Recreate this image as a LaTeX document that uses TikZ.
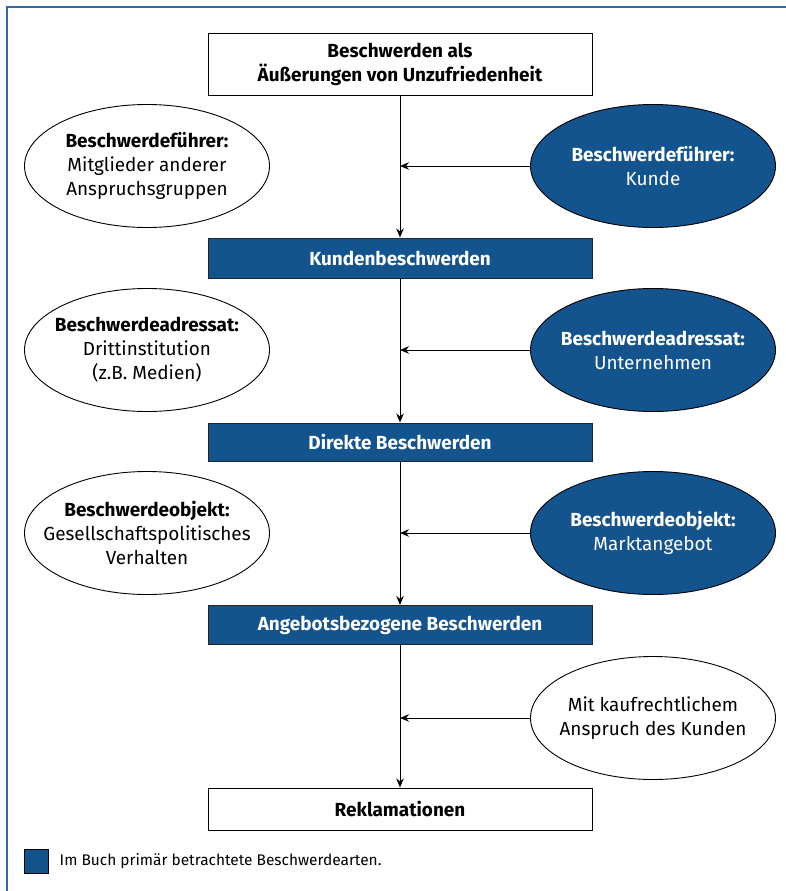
\documentclass[tikz,border=0pt]{standalone}
\usepackage{fontspec}
\setmainfont{Fira Sans}
\usetikzlibrary{arrows.meta}
\usetikzlibrary{positioning}
\usetikzlibrary{shapes.geometric}
\newcommand{\labelsize}{\fontsize{19}{24}\selectfont}
\definecolor{kblue}{RGB}{19,84,142}
\definecolor{fblue}{RGB}{45,105,165}
\tikzset{
  box/.style = {draw, line width=1pt, minimum width=384bp, inner sep=0, align=center, font=\labelsize\bfseries},
  wbox/.style = {box, fill=white},
  bbox/.style = {box, fill=kblue, text=white, draw=black!85},
  oval/.style = {ellipse, draw, line width=0.9pt, minimum width=245bp, minimum height=123bp, inner xsep=-45bp, inner ysep=0, align=center, font=\labelsize},
  woval/.style = {oval, fill=white},
  boval/.style = {oval, fill=kblue, text=white},
  flow/.style = {-{Stealth[length=9bp, width=7.5bp]}, line width=0.9pt}
}

\begin{document}
\begin{tikzpicture}[x=1bp, y=-1bp]
    \useasboundingbox (0, 0) rectangle (786, 891);
    \draw [fblue, line width=1.6bp] (7, 891) -- (7, 7) -- (786, 7);

    % main chain
    \node [wbox, minimum height=62bp] (start) at (400, 64) {Beschwerden als\\Äußerungen von Unzufriedenheit};
    \node [bbox, minimum height=40bp] (kunden) at (400, 258) {Kundenbeschwerden};
    \node [bbox, minimum height=38bp] (direkt) at (400, 442) {Direkte Beschwerden};
    \node [bbox, minimum height=39bp] (angebot) at (400, 625) {Angebotsbezogene Beschwerden};
    \node [wbox, minimum height=42bp] (rekl) at (400, 809) {Reklamationen};

    % alternatives left
    \node [woval] (lfuehrer) at (147, 166) {\textbf{Beschwerdeführer:}\\Mitglieder anderer\\Anspruchsgruppen};
    \node [woval] (ladressat) at (147, 350) {\textbf{Beschwerdeadressat:}\\Drittinstitution\\(z.B. Medien)};
    \node [woval] (lobjekt) at (147, 533) {\textbf{Beschwerdeobjekt:}\\Gesellschaftspolitisches\\Verhalten};

    % criteria right
    \node [boval] (rfuehrer) at (653, 166) {\textbf{Beschwerdeführer:}\\Kunde};
    \node [boval] (radressat) at (653, 350) {\textbf{Beschwerdeadressat:}\\Unternehmen};
    \node [boval] (robjekt) at (653, 533) {\textbf{Beschwerdeobjekt:}\\Marktangebot};
    \node [woval] (ranspruch) at (653, 718) {Mit kaufrechtlichem\\Anspruch des Kunden};

    \draw [flow] (start) -- (kunden);
    \draw [flow] (kunden) -- (direkt);
    \draw [flow] (direkt) -- (angebot);
    \draw [flow] (angebot) -- (rekl);
    \foreach \n in {rfuehrer, radressat, robjekt, ranspruch} {
      \draw [flow] (\n.west) -- (\n.west -| start.south);
    }

    % legend
    \node [draw, fill=kblue, line width=1pt, minimum size=24bp, inner sep=0] (key) at (36, 861) {};
    \node [right=11bp of key, inner sep=0, font=\fontsize{15.5}{18}\selectfont] (keytext) {Im Buch primär betrachtete Beschwerdearten.};
\end{tikzpicture}
\end{document}
